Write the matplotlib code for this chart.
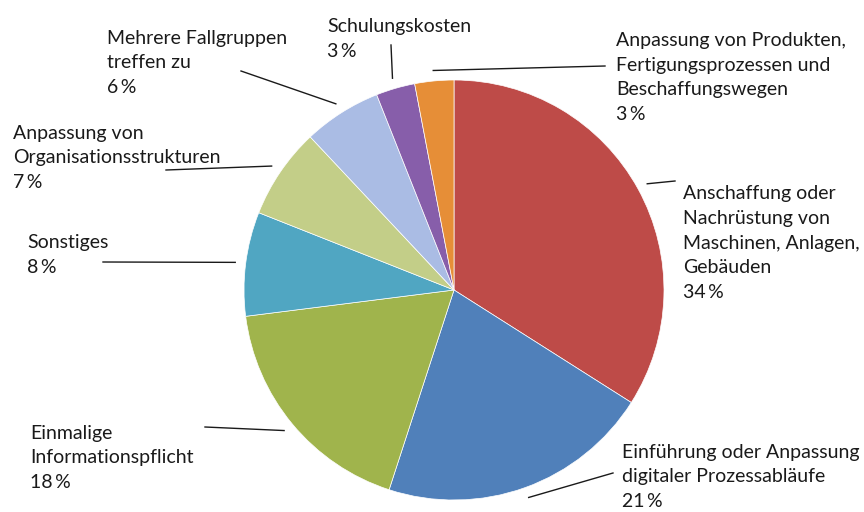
import matplotlib.pyplot as plt
import numpy as np

plt.rcParams['font.family'] = ['Lato', 'DejaVu Sans']

labels = [
    "Anschaffung oder\nNachrüstung von\nMaschinen, Anlagen,\nGebäuden",
    "Einführung oder Anpassung\ndigitaler Prozessabläufe",
    "Einmalige\nInformationspflicht",
    "Sonstiges",
    "Anpassung von\nOrganisationsstrukturen",
    "Mehrere Fallgruppen\ntreffen zu",
    "Schulungskosten",
    "Anpassung von Produkten,\nFertigungsprozessen und\nBeschaffungswegen",
]
shares = [34, 21, 18, 8, 7, 6, 3, 3]
colors = ["#BE4B48", "#5080BA", "#A0B44C", "#50A6C2",
          "#C3CE88", "#AABCE4", "#875EAA", "#E68E37"]

# layout in pixel coords (y from top): text anchor (left, last baseline), leader end
text_pos = [(683, 298), (622, 507), (30, 488), (27, 273),
            (13, 188), (107, 93), (327, 57), (616, 120)]
leader_end = [(675, 181), (613, 473), (205, 427), (103, 262),
              (166, 170), (241, 71), (391, 45), (605, 66)]

W, H = 864, 512
cx, cy, R = 454, H - 290, 210

fig = plt.figure(figsize=(W / 100, H / 100), dpi=100)
ax = fig.add_axes([0, 0, 1, 1])

wedges, _ = ax.pie(shares, colors=colors, startangle=90, counterclock=False,
                   center=(cx, cy), radius=R,
                   wedgeprops=dict(edgecolor='white', linewidth=0.5))
# pie() resets the limits, so set them afterwards
ax.set_xlim(0, W)
ax.set_ylim(0, H)
ax.set_aspect('equal')
ax.axis('off')

for w, lab, val, tp, le in zip(wedges, labels, shares, text_pos, leader_end):
    mid = np.deg2rad((w.theta1 + w.theta2) / 2)
    x0 = cx + 1.05 * R * np.cos(mid)
    y0 = cy + 1.05 * R * np.sin(mid)
    ax.plot([x0, le[0]], [y0, H - le[1]], color='#1a1a1a', lw=1)
    ax.text(tp[0], H - tp[1], f"{lab}\n{val}\u2009%", ha='left', va='baseline',
            fontsize=14, color='#1a1a1a', linespacing=1.55)

fig.savefig("out.png", dpi=100)
